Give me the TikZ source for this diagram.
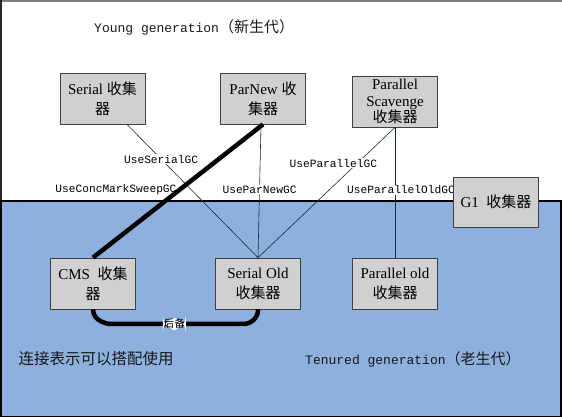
\documentclass[tikz,border=0pt]{standalone}
\usepackage{fontspec}
\setmainfont{Liberation Serif}
\setmonofont{Liberation Mono}
\newfontfamily\cjk{Noto Sans CJK SC}
\usepackage{tikz}
\usetikzlibrary{positioning}
\newcommand{\zh}[1]{{\cjk #1}}
\definecolor{oldgen}{HTML}{8DB0DE}
\definecolor{gcfill}{HTML}{D0D0D0}
\definecolor{linkcol}{HTML}{1A2A40}
\tikzset{
  gc/.style={draw=black!75, line width=0.8pt, fill=gcfill, text=black,
    minimum width=85pt, minimum height=51pt, align=center, inner sep=2pt,
    font=\fontsize{15}{20}\selectfont},
  link/.style={draw=linkcol, line width=0.6pt},
  pair/.style={draw=black, line width=4.5pt},
  flag/.style={font=\ttfamily\fontsize{11.2}{13}\selectfont, fill=white,
    inner sep=1pt, text=black},
  gen/.style={font=\ttfamily\fontsize{13}{15}\selectfont, anchor=west,
    inner sep=0pt, text=black!90}}
\begin{document}
\begin{tikzpicture}[x=1pt, y=-1pt]
  \useasboundingbox (0,0) rectangle (562,418);
  % the two generations
  \fill[white] (0,0) rectangle (562,201);
  \draw[black!50, line width=2pt] (0,1) -- (562,1);
  \draw[black!85, line width=1.5pt] (1,0) -- (1,201);
  \draw[black, line width=1.5pt, fill=oldgen] (1,201) rectangle (561,416.5);
  \node[gen] (young) at (94,27)
    {Young generation{\cjk\fontsize{15}{15}\selectfont （新生代）}};
  \node[gen] (tenured) at (305,359)
    {Tenured generation{\cjk\fontsize{15}{15}\selectfont （老生代）}};
  \node[anchor=west, inner sep=0pt, font=\cjk\fontsize{15.5}{17}\selectfont,
    text=black!90] (legend) at (18.5,359) {连接表示可以搭配使用};
  % collectors
  \node[gc] (serial) at (102.5,98.5) {Serial \zh{收集}\\\zh{器}};
  \node[gc] (parnew) at (263,98.5) {ParNew \zh{收}\\\zh{集器}};
  \node[gc, font=\fontsize{15}{16.5}\selectfont, inner sep=0pt] (scavenge)
    at (395,101.5) {Parallel\\Scavenge\\\zh{收集器}};
  \node[gc] (cms) at (93,283.5) {CMS\ \ \zh{收集}\\\zh{器}};
  \node[gc] (serialold) at (258,283.5) {Serial Old\\\zh{收集器}};
  \node[gc] (parold) at (395,283.5) {Parallel old\\\zh{收集器}};
  % pairings
  \draw[link] ([xshift=24.5pt]serial.south) --
    node[flag, pos=0.26] {UseSerialGC} (serialold.north);
  \draw[pair] (parnew.south) --
    node[flag, fill=none, pos=0.49, anchor=east] {UseConcMarkSweepGC} (cms.north);
  \draw[link] ([xshift=-2pt]parnew.south) --
    node[flag, pos=0.49] {UseParNewGC} (serialold.north);
  \draw[link] (scavenge.south) --
    node[flag, pos=0.275, xshift=-24pt] {UseParallelGC} (serialold.north);
  \draw[link] (scavenge.south) --
    node[flag, pos=0.48, xshift=6pt] {UseParallelOldGC} (parold.north);
  \draw[pair, rounded corners=14pt] (cms.south) to[out=-90, in=180] ++(30,14.5) -|
    node[pos=0.19, fill=white, inner sep=1pt, font=\cjk\fontsize{10.5}{11}\selectfont]
    {后备} (serialold.south);
  \node[gc, minimum height=50pt] (gone) at (496,202) {G1\ \ \zh{收集器}};
\end{tikzpicture}
\end{document}
